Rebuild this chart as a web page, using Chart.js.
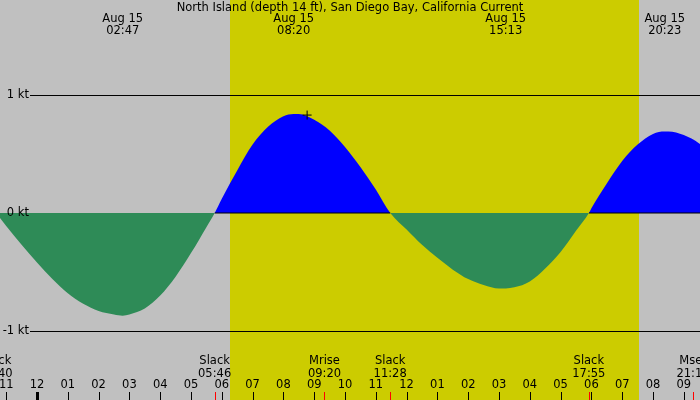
<!DOCTYPE html>
<html>
<head>
<meta charset="utf-8">
<script src="https://cdn.jsdelivr.net/npm/chart.js@4/dist/chart.umd.min.js"></script>
<style>
html,body{margin:0;padding:0;background:#c0c0c0;}
canvas{display:block;}
</style>
</head>
<body>
<canvas id="c" width="700" height="400"></canvas>
<script>
// ---- data ----
const titleText = "North Island (depth 14 ft), San Diego Bay, California Current";
const currentHours = [-1.33, -1, -0.5, 0, 0.5, 1, 1.5, 2, 2.5, 2.78, 3, 3.5, 4, 4.5, 5, 5.5, 5.77,
  6, 6.5, 7, 7.5, 8, 8.33, 8.5, 9, 9.5, 10, 10.5, 11, 11.47,
  12, 12.5, 13, 13.5, 14, 14.5, 15, 15.22, 15.5, 16, 16.5, 17, 17.5, 17.92,
  18, 18.5, 19, 19.5, 20, 20.38, 20.5, 21, 21.5, 22];
const currentKnots = [0, -0.11, -0.27, -0.42, -0.56, -0.68, -0.77, -0.83, -0.86, -0.87, -0.86, -0.81, -0.70, -0.54, -0.34, -0.12, 0,
  0.12, 0.36, 0.58, 0.73, 0.82, 0.84, 0.84, 0.79, 0.70, 0.56, 0.39, 0.20, 0,
  -0.14, -0.27, -0.38, -0.48, -0.56, -0.61, -0.64, -0.64, -0.63, -0.58, -0.47, -0.33, -0.15, 0,
  0.04, 0.25, 0.44, 0.58, 0.67, 0.69, 0.69, 0.66, 0.59, 0.49];
const extremeHours = [2.783, 8.333, 15.217, 20.383];
const extremeDates = ["Aug 15", "Aug 15", "Aug 15", "Aug 15"];
const extremeTimes = ["02:47", "08:20", "15:13", "20:23"];
const eventHours = [-1.33, 5.767, 9.333, 11.467, 17.917, 21.3];
const eventNames = ["Slack", "Slack", "Mrise", "Slack", "Slack", "Mset"];
const eventTimes = ["22:40", "05:46", "09:20", "11:28", "17:55", "21:18"];
const floodStart = [5.77, 17.92];
const floodEnd = [11.47, 22.5];
const hourTicks = [-1,0,1,2,3,4,5,6,7,8,9,10,11,12,13,14,15,16,17,18,19,20,21];
const hourLabels = ["11","12","01","02","03","04","05","06","07","08","09","10","11","12","01","02","03","04","05","06","07","08","09"];
const yTickValues = [1, 0, -1];
const yTickLabels = ["1 kt", "0 kt", "-1 kt"];
const sunriseHour = 6.266;
const sunsetHour = 19.545;
const markerHours = [8.77];
const markerKnots = [0.83];

const FONT = '11.5px "DejaVu Sans"';

const zeroLine = [];
for (let i = 0; i < floodStart.length; i++) {
  zeroLine.push({x: floodStart[i], y: 0}, {x: floodEnd[i], y: 0});
  zeroLine.push({x: (floodEnd[i] + (floodStart[i+1] || floodEnd[i]+1)) / 2, y: null});
}

const bgPlugin = {
  id: 'bg',
  beforeDraw(chart) {
    const {ctx, scales: {x, y}} = chart;
    ctx.save();
    ctx.fillStyle = '#c0c0c0';
    ctx.fillRect(0, 0, chart.width, chart.height);
    const x0 = Math.round(x.getPixelForValue(sunriseHour));
    const x1 = Math.round(x.getPixelForValue(sunsetHour));
    ctx.fillStyle = '#cccc00';
    ctx.fillRect(x0, 0, x1 - x0, chart.height);
    ctx.restore();
  },
  beforeDatasetsDraw(chart) {
    const {ctx, scales: {x, y}} = chart;
    ctx.save();
    ctx.strokeStyle = '#000';
    ctx.lineWidth = 1;
    [1, -1].forEach(v => {
      const py = Math.round(y.getPixelForValue(v)) + 0.5;
      ctx.beginPath();
      ctx.moveTo(30, py);
      ctx.lineTo(chart.width, py);
      ctx.stroke();
    });
    ctx.restore();
  },
  afterDatasetsDraw(chart) {
    const {ctx, scales: {x, y}} = chart;
    ctx.save();
    ctx.fillStyle = '#000';
    ctx.font = FONT;
    ctx.textBaseline = 'middle';
    ctx.textAlign = 'center';
    ctx.fillText(titleText, 350, 8);
    extremeHours.forEach((h, i) => {
      const px = x.getPixelForValue(h);
      ctx.fillText(extremeDates[i], px, 19);
      ctx.fillText(extremeTimes[i], px, 31);
    });
    eventHours.forEach((h, i) => {
      const px = x.getPixelForValue(h);
      ctx.fillText(eventNames[i], px, 361);
      ctx.fillText(eventTimes[i], px, 374);
    });
    hourTicks.forEach((h, i) => {
      const px = x.getPixelForValue(h);
      ctx.fillText(hourLabels[i], px, 385);
    });
    ctx.textAlign = 'right';
    yTickValues.forEach((v, i) => {
      ctx.fillText(yTickLabels[i], 29, y.getPixelForValue(v));
    });
    hourTicks.forEach((h, i) => {
      const px = Math.round(x.getPixelForValue(h));
      ctx.fillStyle = '#000';
      if (h === 0) ctx.fillRect(px - 1, 392, 3, 8);
      else ctx.fillRect(px, 392, 1, 8);
    });
    ctx.fillStyle = '#ff0000';
    eventHours.forEach(h => {
      const px = Math.round(x.getPixelForValue(h));
      ctx.fillRect(px, 392, 1, 8);
    });
    ctx.restore();
  }
};

new Chart(document.getElementById('c'), {
  type: 'line',
  data: {
    datasets: [
      {
        label: 'marker',
        type: 'scatter',
        data: markerHours.map((h, i) => ({x: h, y: markerKnots[i]})),
        pointStyle: 'cross',
        pointRadius: 4.5,
        borderColor: '#000',
        borderWidth: 1,
        order: 0
      },
      {
        label: 'zero',
        data: zeroLine,
        borderColor: '#000',
        borderWidth: 1,
        pointRadius: 0,
        fill: false,
        spanGaps: false,
        order: 1
      },
      {
        label: 'current',
        data: currentHours.map((h, i) => ({x: h, y: currentKnots[i]})),
        borderWidth: 0,
        borderColor: 'rgba(0,0,0,0)',
        pointRadius: 0,
        cubicInterpolationMode: 'monotone',
        fill: {target: 'origin', above: '#0000ff', below: '#2e8b57'},
        order: 2
      }
    ]
  },
  options: {
    responsive: false,
    devicePixelRatio: 1,
    animation: false,
    layout: {padding: 0, autoPadding: false},
    plugins: {legend: {display: false}, tooltip: {enabled: false}},
    scales: {
      x: {type: 'linear', min: -1.2013, max: 21.526, display: false},
      y: {type: 'linear', min: -1.5847, max: 1.8051, display: false}
    }
  },
  plugins: [bgPlugin]
});
</script>
</body>
</html>
